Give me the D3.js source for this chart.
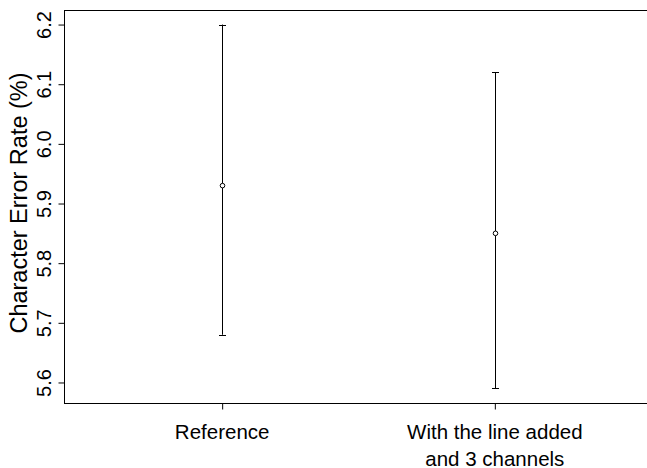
<!DOCTYPE html>
<html>
<head>
<meta charset="utf-8">
<script src="https://cdn.jsdelivr.net/npm/d3@7"></script>
<style>
  html, body { margin: 0; padding: 0; background: #fff; }
  svg { display: block; }
  text { font-family: "Liberation Sans", Arial, Helvetica, sans-serif; fill: #000; }
</style>
</head>
<body>
<svg id="chart" width="647" height="468"></svg>
<script>
// ---- data ----
const categories = ["Reference", "With the line added\nand 3 channels"];
const means = [5.93, 5.85];
const lower = [5.68, 5.59];
const upper = [6.20, 6.12];
const yTicks = [5.6, 5.7, 5.8, 5.9, 6.0, 6.1, 6.2];
const yTitle = "Character Error Rate (%)";

// ---- layout ----
const svg = d3.select("#chart");
const mLeft = 64, mTop = 10, mBottom = 403, mRight = 653;

const x = d3.scaleLinear().domain([0.42, 2.58]).range([mLeft, mRight]);
const yMin = 5.59, yMax = 6.2, ext = (yMax - yMin) * 0.04;
const y = d3.scaleLinear().domain([yMin - ext, yMax + ext]).range([mBottom, mTop]);

// plot box
svg.append("rect")
  .attr("x", mLeft + 0.5).attr("y", mTop + 0.5)
  .attr("width", mRight - mLeft).attr("height", mBottom - mTop)
  .attr("fill", "none").attr("stroke", "#000").attr("stroke-width", 1);

// y axis
const yAxis = d3.axisLeft(y).tickValues(yTicks).tickFormat(d3.format(".1f")).tickSize(6).tickSizeOuter(0);
const gy = svg.append("g").attr("transform", `translate(${mLeft + 0.5},0)`).call(yAxis);
gy.select(".domain").remove();
gy.selectAll(".tick line").attr("stroke", "#000");
gy.selectAll(".tick text")
  .attr("font-size", 20)
  .attr("text-anchor", "middle")
  .attr("dy", 0)
  .attr("x", 0)
  .attr("transform", "translate(-14,0) rotate(-90)");

// x axis
const idx = categories.map((c, i) => i + 1);
const xAxis = d3.axisBottom(x).tickValues(idx).tickFormat("").tickSize(6).tickSizeOuter(0);
const gx = svg.append("g").attr("transform", `translate(0,${mBottom + 0.5})`).call(xAxis);
gx.select(".domain").attr("d", `M${x(1)},0H${x(2)}`).attr("stroke", "#000");
gx.selectAll(".tick line").attr("stroke", "#000");

// x labels (multi-line)
categories.forEach((c, i) => {
  const lines = c.split("\n");
  const t = svg.append("text")
    .attr("x", x(i + 1)).attr("y", 439)
    .attr("text-anchor", "middle").attr("font-size", 20.5);
  lines.forEach((ln, j) => {
    t.append("tspan").attr("x", x(i + 1)).attr("dy", j === 0 ? 0 : 27).text(ln);
  });
});

// y title
svg.append("text")
  .attr("transform", `translate(26.5,203) rotate(-90)`)
  .attr("text-anchor", "middle")
  .attr("font-size", 23.5)
  .text(yTitle);

// error bars
const g = svg.append("g");
idx.forEach((v, i) => {
  const cx = Math.round(x(v)) + 0.5;
  g.append("line").attr("x1", cx).attr("x2", cx)
    .attr("y1", y(lower[i])).attr("y2", y(upper[i]))
    .attr("stroke", "#000").attr("stroke-width", 1);
  [lower[i], upper[i]].forEach(val => {
    g.append("line").attr("x1", cx - 3.5).attr("x2", cx + 3.5)
      .attr("y1", Math.round(y(val)) + 0.5).attr("y2", Math.round(y(val)) + 0.5)
      .attr("stroke", "#000").attr("stroke-width", 1);
  });
  g.append("circle").attr("cx", cx).attr("cy", y(means[i])).attr("r", 2.3)
    .attr("fill", "#fff").attr("stroke", "#000").attr("stroke-width", 1);
});
</script>
</body>
</html>
